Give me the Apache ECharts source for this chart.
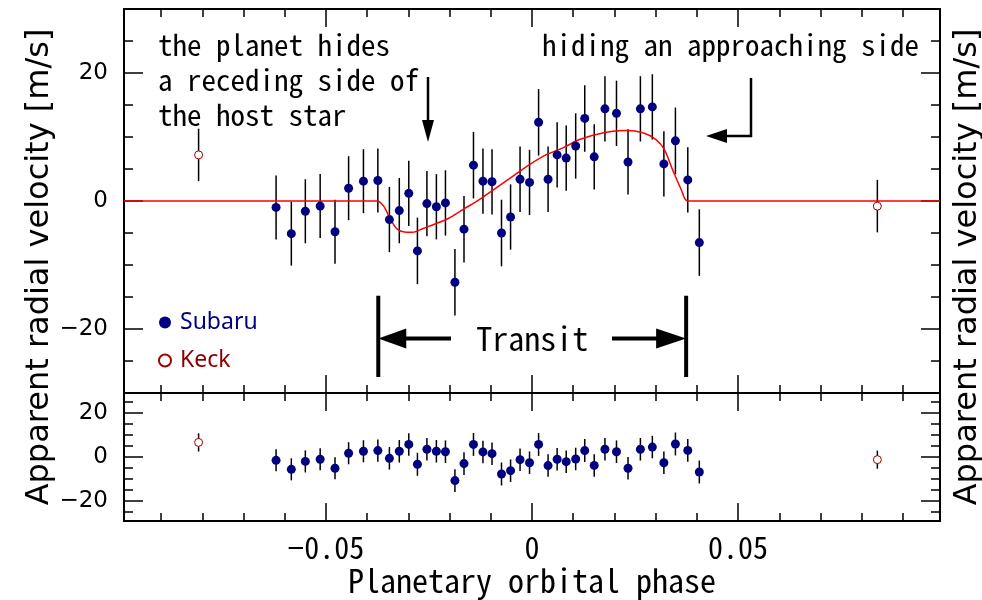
<!DOCTYPE html>
<html>
<head>
<meta charset="utf-8">
<script src="https://cdn.jsdelivr.net/npm/echarts@6/dist/echarts.min.js"></script>
<style>
html, body { margin: 0; padding: 0; background: #fff; }
#main { width: 982px; height: 600px; }
</style>
</head>
<body>
<div id="main"></div>
<script>
// Subaru points (phase, velocity, error, residual)
const subaruPhase = [-0.0621, -0.0584, -0.0550, -0.0514, -0.0478, -0.0445, -0.0409, -0.0374, -0.0346, -0.0322,
    -0.0299, -0.0278, -0.0255, -0.0232, -0.0210, -0.0187, -0.0165, -0.0142, -0.0119, -0.0097,
    -0.0074, -0.0052, -0.0029, -0.0006, 0.0016, 0.0039, 0.0061, 0.0083, 0.0106, 0.0128,
    0.0151, 0.0177, 0.0205, 0.0233, 0.0263, 0.0292, 0.0320, 0.0348, 0.0378, 0.0406];
const subaruVel = [-1.0, -5.1, -1.6, -0.8, -4.8, 2.0, 3.1, 3.2, -2.9, -1.5,
    1.2, -7.8, -0.4, -0.9, -0.3, -12.7, -4.4, 5.6, 3.1, 3.0,
    -5.0, -2.5, 3.4, 2.9, 12.3, 3.4, 7.2, 6.7, 8.6, 12.9,
    6.9, 14.4, 13.7, 6.1, 14.4, 14.7, 5.8, 9.4, 3.3, -6.5];
const subaruErr = [5.0, 5.0, 5.0, 5.0, 5.0, 5.0, 5.0, 5.0, 5.1, 5.1,
    5.1, 5.2, 5.1, 5.1, 5.1, 5.2, 5.2, 5.2, 5.1, 5.1,
    5.2, 5.1, 5.1, 5.1, 5.2, 5.1, 5.1, 5.1, 5.1, 5.2,
    5.1, 5.1, 5.1, 5.1, 5.1, 5.1, 5.1, 5.2, 5.1, 5.2];
const subaruRes = [-1.5, -5.6, -2.0, -1.0, -5.1, 1.7, 2.6, 2.9, -0.6, 2.6,
    5.7, -3.3, 3.5, 2.6, 2.4, -10.7, -3.0, 5.7, 2.3, 1.5,
    -7.7, -6.2, -1.2, -2.6, 5.7, -3.9, -1.0, -2.1, -0.9, 2.9,
    -3.8, 3.5, 2.4, -5.1, 3.5, 4.5, -2.6, 5.9, 3.0, -6.8];

// Keck points
const keckPhase = [-0.0809, 0.0838];
const keckVel = [7.2, -0.8];
const keckErr = [4.1, 4.1];
const keckRes = [6.6, -1.2];

// model curve (red line)
const modelPhase = [-0.099, -0.0377, -0.0360, -0.0343, -0.0327, -0.0310, -0.0290, -0.0264, -0.0248, -0.0207,
    -0.0167, -0.0127, -0.0086, -0.0046, -0.0006, 0.0035, 0.0075, 0.0115, 0.0156, 0.0196,
    0.0229, 0.0269, 0.0301, 0.0321, 0.0341, 0.0362, 0.0378, 0.099];
const modelVel = [0, 0, -0.8, -2.9, -4.4, -4.85, -4.9, -4.3, -3.9, -2.85,
    -1.3, 0.25, 2.1, 3.9, 5.7, 7.25, 8.3, 9.6, 10.4, 10.9,
    11.0, 10.65, 9.6, 8.05, 4.9, 1.8, 0, 0];

// transit start / end (phase)
const transitStart = -0.0373;
const transitEnd = 0.0374;

// ticks
const xTicks = [-0.05, 0, 0.05];
const xMinorTicks = [-0.09, -0.08, -0.07, -0.06, -0.04, -0.03, -0.02, -0.01, 0.01, 0.02, 0.03, 0.04, 0.06, 0.07, 0.08, 0.09];
const yTicks = [-20, 0, 20];
const yMinorTicks = [-25, -15, -10, -5, 5, 10, 15, 25];

const monoFont = '"Noto Sans Mono CJK JP", "DejaVu Sans Mono", monospace';

function pairs(xs, ys) {
    return xs.map((x, i) => [x, ys[i]]);
}

function xAxisOf(grid, pos, values, len) {
    return {
        type: 'value', gridIndex: grid, position: pos, min: -0.099, max: 0.099,
        axisLine: { show: true, onZero: false, lineStyle: { color: '#000', width: 2 } },
        axisTick: { show: true, inside: true, length: len, customValues: values, lineStyle: { color: '#000', width: 1.5 } },
        axisLabel: { show: false },
        splitLine: { show: false }
    };
}

function yAxisOf(grid, pos, lim, values, len) {
    return {
        type: 'value', gridIndex: grid, position: pos, min: -lim, max: lim,
        axisLine: { show: true, onZero: false, lineStyle: { color: '#000', width: 2 } },
        axisTick: { show: true, inside: true, length: len, customValues: values, lineStyle: { color: '#000', width: 1.5 } },
        axisLabel: { show: false },
        splitLine: { show: false }
    };
}

function errBars(xs, ys, es, xi, yi) {
    return {
        type: 'custom', xAxisIndex: xi, yAxisIndex: yi, silent: true, z: 2,
        encode: { x: 0, y: [1, 2] },
        data: xs.map((x, i) => [x, ys[i] - es[i], ys[i] + es[i]]),
        renderItem: function (params, api) {
            let lo = api.coord([api.value(0), api.value(1)]);
            let hi = api.coord([api.value(0), api.value(2)]);
            return {
                type: 'line',
                shape: { x1: lo[0], y1: lo[1], x2: hi[0], y2: hi[1] },
                style: { stroke: '#000', lineWidth: 1.5 }
            };
        }
    };
}

let xAxes = [
    xAxisOf(0, 'bottom', xTicks, 18), xAxisOf(0, 'bottom', xMinorTicks, 8),
    xAxisOf(0, 'top', xTicks, 18), xAxisOf(0, 'top', xMinorTicks, 8),
    xAxisOf(1, 'bottom', xTicks, 18), xAxisOf(1, 'bottom', xMinorTicks, 8),
    xAxisOf(1, 'top', xTicks, 18), xAxisOf(1, 'top', xMinorTicks, 8)
];
// labels + name on the lowest axis
xAxes[4].axisLabel = {
    show: true, customValues: xTicks, margin: 12,
    fontFamily: monoFont, fontSize: 30, color: '#000',
    formatter: v => String(v).replace('-', '\u2212')
};
xAxes[4].name = 'Planetary orbital phase';
xAxes[4].nameLocation = 'middle';
xAxes[4].nameGap = 44;
xAxes[4].nameTextStyle = { fontFamily: monoFont, fontSize: 32, color: '#000' };

let yAxes = [
    yAxisOf(0, 'left', 30, yTicks, 19), yAxisOf(0, 'left', 30, yMinorTicks, 9),
    yAxisOf(0, 'right', 30, yTicks, 19), yAxisOf(0, 'right', 30, yMinorTicks, 9),
    yAxisOf(1, 'left', 29, yTicks, 19), yAxisOf(1, 'left', 29, yMinorTicks, 9),
    yAxisOf(1, 'right', 29, yTicks, 19), yAxisOf(1, 'right', 29, yMinorTicks, 9)
];
[0, 4].forEach(function (k) {
    yAxes[k].axisLabel = {
        show: true, customValues: yTicks, margin: 16,
        fontFamily: 'DejaVu Sans', fontSize: 23, color: '#000',
        formatter: v => String(v).replace('-', '\u2212')
    };
});

let chart = echarts.init(document.getElementById('main'));
chart.setOption({
    animation: false,
    backgroundColor: '#fff',
    grid: [
        { left: 124, top: 9, width: 816, height: 384, outerBoundsMode: 'none' },
        { left: 124, top: 393, width: 816, height: 128, outerBoundsMode: 'none' }
    ],
    xAxis: xAxes,
    yAxis: yAxes,
    legend: {
        orient: 'vertical', left: 153, top: 306, itemGap: 15,
        itemWidth: 20, itemHeight: 12,
        textStyle: { fontFamily: 'Noto Sans', fontSize: 23 },
        data: [
            { name: 'Subaru', textStyle: { color: '#000080' } },
            { name: 'Keck', textStyle: { color: '#8b0000' } }
        ]
    },
    series: [
        {
            type: 'line', name: 'model', xAxisIndex: 0, yAxisIndex: 0, z: 3,
            data: pairs(modelPhase, modelVel), showSymbol: false, smooth: 0.3,
            lineStyle: { color: '#ff0000', width: 1.5 }, silent: true
        },
        errBars(subaruPhase, subaruVel, subaruErr, 0, 0),
        errBars(keckPhase, keckVel, keckErr, 0, 0),
        errBars(subaruPhase, subaruRes, subaruErr, 4, 4),
        errBars(keckPhase, keckRes, keckErr, 4, 4),
        {
            type: 'scatter', name: 'Subaru', xAxisIndex: 0, yAxisIndex: 0, z: 4,
            data: pairs(subaruPhase, subaruVel), symbolSize: 9,
            itemStyle: { color: '#000080', opacity: 1 }
        },
        {
            type: 'scatter', name: 'Keck', xAxisIndex: 0, yAxisIndex: 0, z: 4,
            data: pairs(keckPhase, keckVel), symbolSize: 8,
            itemStyle: { color: '#fff', borderColor: '#a00000', borderWidth: 1, opacity: 1 }
        },
        {
            type: 'scatter', name: 'Subaru', xAxisIndex: 4, yAxisIndex: 4, z: 4,
            data: pairs(subaruPhase, subaruRes), symbolSize: 9,
            itemStyle: { color: '#000080', opacity: 1 }
        },
        {
            type: 'scatter', name: 'Keck', xAxisIndex: 4, yAxisIndex: 4, z: 4,
            data: pairs(keckPhase, keckRes), symbolSize: 8,
            itemStyle: { color: '#fff', borderColor: '#a00000', borderWidth: 1, opacity: 1 }
        }
    ]
});

// annotations: texts, arrows, transit bracket
let xs = chart.convertToPixel({ xAxisIndex: 0 }, transitStart);
let xe = chart.convertToPixel({ xAxisIndex: 0 }, transitEnd);
let yTop = chart.convertToPixel({ yAxisIndex: 0 }, -14.8);
let yBot = chart.convertToPixel({ yAxisIndex: 0 }, -27.5);
let yArr = chart.convertToPixel({ yAxisIndex: 0 }, -21.5);
let ink = { stroke: '#000', lineWidth: 2.5 };
let thick = { stroke: '#000', lineWidth: 4 };

chart.setOption({
    graphic: [
        {
            type: 'text', left: 158, top: 27,
            style: { text: 'the planet hides\na receding side of\nthe host star', fontFamily: monoFont, fontSize: 29, lineHeight: 35, fill: '#000' }
        },
        {
            type: 'text', right: 63, top: 27,
            style: { text: 'hiding an approaching side', fontFamily: monoFont, fontSize: 29, lineHeight: 35, fill: '#000' }
        },
        {
            type: 'text', x: (xs + xe) / 2, y: yArr,
            style: { text: 'Transit', fontFamily: monoFont, fontSize: 32, fill: '#000', align: 'center', verticalAlign: 'middle' }
        },
        // down arrow
        { type: 'line', shape: { x1: 428, y1: 77, x2: 428, y2: 124 }, style: ink },
        { type: 'polygon', shape: { points: [[422, 120], [434, 120], [428, 142]] }, style: { fill: '#000' } },
        // L shaped arrow
        { type: 'line', shape: { x1: 751, y1: 78, x2: 751, y2: 137 }, style: ink },
        { type: 'line', shape: { x1: 752, y1: 136, x2: 722, y2: 136 }, style: ink },
        { type: 'polygon', shape: { points: [[706, 136], [727, 129], [727, 143]] }, style: { fill: '#000' } },
        // transit bracket
        { type: 'line', shape: { x1: xs, y1: yTop, x2: xs, y2: yBot }, style: thick },
        { type: 'line', shape: { x1: xe, y1: yTop, x2: xe, y2: yBot }, style: thick },
        { type: 'line', shape: { x1: xs + 20, y1: yArr, x2: 451, y2: yArr }, style: thick },
        { type: 'polygon', shape: { points: [[xs, yArr], [xs + 28, yArr - 10], [xs + 28, yArr + 10]] }, style: { fill: '#000' } },
        { type: 'line', shape: { x1: 612, y1: yArr, x2: xe - 20, y2: yArr }, style: thick },
        { type: 'polygon', shape: { points: [[xe, yArr], [xe - 30, yArr - 10], [xe - 30, yArr + 10]] }, style: { fill: '#000' } },
        // y axis titles
        {
            type: 'text', x: 40, y: 267, rotation: Math.PI / 2,
            style: { text: 'Apparent radial velocity [m/s]', fontFamily: 'DejaVu Sans', fontSize: 32, fill: '#000', align: 'center', verticalAlign: 'middle' }
        },
        {
            type: 'text', x: 968, y: 267, rotation: Math.PI / 2,
            style: { text: 'Apparent radial velocity [m/s]', fontFamily: 'DejaVu Sans', fontSize: 32, fill: '#000', align: 'center', verticalAlign: 'middle' }
        }
    ]
});
</script>
</body>
</html>
